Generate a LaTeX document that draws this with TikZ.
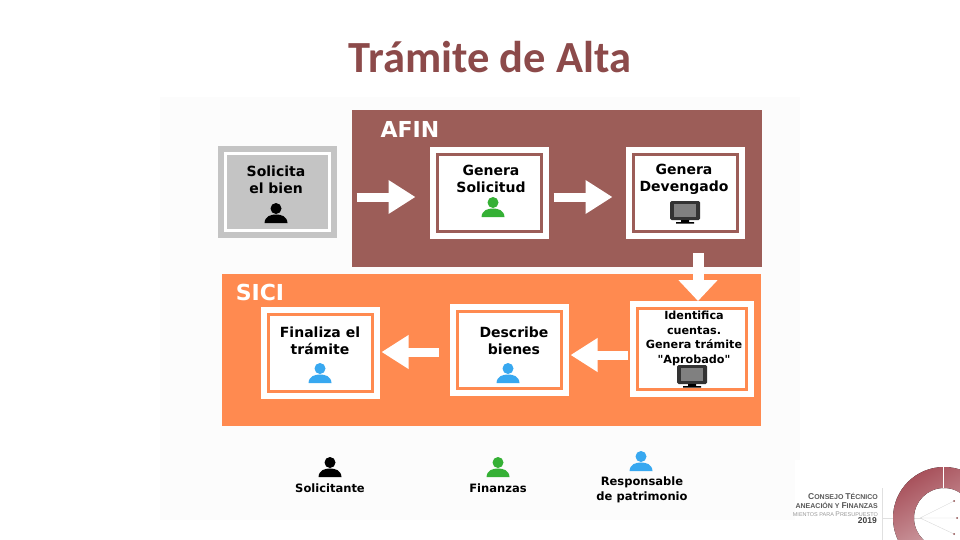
\documentclass[tikz,border=0pt]{standalone}
\usepackage{fontspec}
\setmainfont{Liberation Sans}
\newfontfamily\titlefont{Carlito}
\newfontfamily\boxfont{DejaVu Sans}
\usetikzlibrary{arrows.meta}
\definecolor{afincol}{HTML}{9C5D58}
\definecolor{sicicol}{HTML}{FF8A50}
\definecolor{soliccol}{HTML}{C4C4C4}
\definecolor{fincol}{HTML}{35B035}
\definecolor{patcol}{HTML}{38A8F0}
\definecolor{titlecol}{HTML}{8C4A4A}
\definecolor{ringcol}{HTML}{A8525C}
\tikzstyle{stepbox}=[draw=#1,fill=white,line width=3,minimum width=104,minimum height=77,
  preaction={draw=white,line width=15}]
\tikzstyle{boxtext}=[font=\boxfont\bfseries\fontsize{14}{17}\selectfont,align=center,black,inner sep=0]
\tikzstyle{smalltext}=[boxtext,font=\boxfont\bfseries\fontsize{11.5}{15}\selectfont]
\tikzstyle{bandtext}=[white,font=\boxfont\bfseries\fontsize{22}{24}\selectfont,inner sep=0]
\tikzstyle{bigarrow}=[white,line width=9,-{Triangle[length=27,width=32]}]
\tikzstyle{logotext}=[anchor=east,inner sep=0,font=\bfseries\fontsize{7}{8}\selectfont,black!65]
\def\person#1#2{\fill[#2,shift={(#1)}] (0,-4.5) circle (5.5)
  (-11.5,10) .. controls (-11,3) and (-5,1.5) .. (0,1.5) .. controls (5,1.5) and (11,3) .. (11.5,10) -- cycle}
\def\monitor#1{\begin{scope}[shift={(#1)}]
  \fill[black!80,rounded corners=1.5] (-15,-11) rectangle (15,8);
  \fill[black!50] (-11,-8) rectangle (11,5);
  \fill[black] (-4,8) rectangle (4,10) (-9,10) rectangle (9,11.5);
\end{scope}}

\begin{document}
\begin{tikzpicture}[x=1pt,y=-1pt]
  \useasboundingbox (0,0) rectangle (960,540);
  \clip (0,0) rectangle (960,540);
  \fill[black!1] (160,97) rectangle (800,520);

  % TITLE
  \node[titlecol,font=\titlefont\bfseries\fontsize{44.5}{48}\selectfont,inner sep=0] (title) at (490,57) {Trámite de Alta};

  % BANDS
  \fill[afincol] (352,110) rectangle (762,267);
  \fill[sicicol] (222,274) rectangle (761,426);
  \node[bandtext] (afin) at (410,129) {AFIN};
  \node[bandtext] (sici) at (260,292) {SICI};

  % BOXES
  \node[draw=white,fill=soliccol,line width=3,minimum width=104,minimum height=77,
    preaction={draw=soliccol,line width=15}] (solicita) at (277,192) {};
  \node[stepbox=afincol] (solicitud) at (489,193) {};
  \node[stepbox=afincol] (devengado) at (685,193) {};
  \node[stepbox=sicicol,minimum width=109,minimum height=81] (identifica) at (692,349) {};
  \node[stepbox=sicicol] (describe) at (509,350) {};
  \node[stepbox=sicicol] (finaliza) at (320,353) {};

  % TEXTS
  \node[boxtext] (tsolicita) at (276,179.5) {Solicita\\el bien};
  \node[boxtext] (tsolicitud) at (491,178.5) {Genera\\Solicitud};
  \node[boxtext] (tdevengado) at (684,179.5) {Genera\\Devengado};
  \node[smalltext,font=\boxfont\bfseries\fontsize{11.2}{14.7}\selectfont] (tidentifica) at (694,338.5) {Identifica\\cuentas.\\Genera trámite\\"Aprobado"};
  \node[boxtext] (tdescribe) at (514,341) {Describe\\bienes};
  \node[boxtext] (tfinaliza) at (320,341) {Finaliza el\\trámite};

  % ICONS
  \person{276,213}{black};
  \person{493,207}{fincol};
  \monitor{685,212}
  \monitor{692,376}
  \person{508,373}{patcol};
  \person{320,373}{patcol};

  % ARROWS
  \draw[bigarrow,shorten <=26,shorten >=20] ([yshift=-5]solicita.east) -- ([yshift=-4]solicitud.west);
  \draw[bigarrow,shorten <=11,shorten >=19] ([yshift=-4]solicitud.east) -- ([yshift=-4]devengado.west);
  \draw[bigarrow,line width=11,-{Triangle[length=21,width=38]},shorten <=20,shorten >=6] ([xshift=13]devengado.south) -- ([xshift=6]identifica.north);
  \draw[bigarrow,shorten <=8,shorten >=8] ([yshift=-6]identifica.west) -- ([yshift=-5]describe.east);
  \draw[bigarrow,shorten <=17,shorten >=8] ([yshift=-2]describe.west) -- ([yshift=1]finaliza.east);

  % LEGEND
  \person{330,467}{black};
  \person{498,467}{fincol};
  \person{641,461}{patcol};
  \node[smalltext] (lsolicitante) at (330,488) {Solicitante};
  \node[smalltext] (lfinanzas) at (498,488) {Finanzas};
  \node[smalltext] (lresponsable) at (642,489.5) {Responsable\\de patrimonio};

  % LOGO
  \fill[white] (795,460) rectangle (960,540);
  \draw[black!12] (882,488) -- (882,540) (882,518) -- (921,518);
  \fill[even odd rule,left color=ringcol,right color=ringcol!35!white,shading angle=30]
    (944,518) circle (51) (944,518) circle (30);
  \draw[white,line width=1] (943.5,467) -- (943.5,488);
  \draw[black!15] (920,518) -- (954,501) (920,518) -- (957,518) (920,518) -- (954,534);
  \fill[titlecol] (954,501) circle (1) (957,518) circle (1) (954,534) circle (1);
  \node[logotext] (lconsejo) at (878,496) {{\fontsize{8.5}{8}\selectfont C}ONSEJO {\fontsize{8.5}{8}\selectfont T}ÉCNICO};
  \node[logotext] (lplaneacion) at (878,505) {ANEACIÓN Y {\fontsize{8.5}{8}\selectfont F}INANZAS};
  \node[logotext,font=\fontsize{5.5}{6}\selectfont,black!40] (lmientos) at (878,514) {MIENTOS PARA {\fontsize{6.8}{6}\selectfont P}RESUPUESTO};
  \node[logotext,anchor=east,font=\bfseries\fontsize{8.5}{9}\selectfont,black!75] (lanio) at (877,521) {2019};
\end{tikzpicture}
\end{document}
